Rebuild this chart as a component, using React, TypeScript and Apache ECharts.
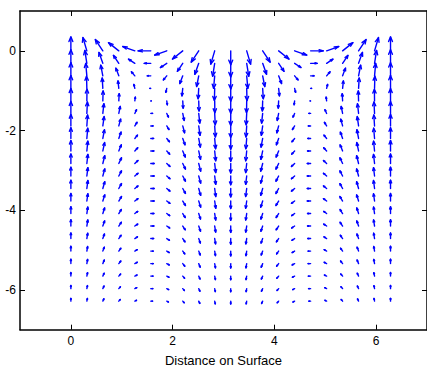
import React, { useEffect, useRef } from "react";
import * as echarts from "echarts";

// grid positions (data units)
const xPositions = [0, 0.314, 0.628, 0.942, 1.257, 1.571, 1.885, 2.199, 2.513, 2.827, 3.142, 3.456, 3.770, 4.084, 4.398, 4.712, 5.027, 5.341, 5.655, 5.969, 6.283];
const yPositions = [0, -0.314, -0.628, -0.942, -1.257, -1.571, -1.885, -2.199, -2.513, -2.827, -3.142, -3.456, -3.770, -4.084, -4.398, -4.712, -5.027, -5.341, -5.655, -5.969, -6.283];

// horizontal arrow components, thousandths of a data unit, one row per depth (top to bottom)
const uRows = [
  [0, -77, -147, -202, -238, -250, -238, -202, -147, -77, 0, 77, 147, 202, 238, 250, 238, 202, 147, 77, 0],
  [0, -40, -76, -105, -124, -130, -124, -105, -76, -40, 0, 40, 76, 105, 124, 130, 124, 105, 76, 40, 0],
  [0, -22, -41, -57, -67, -70, -67, -57, -41, -22, 0, 22, 41, 57, 67, 70, 67, 57, 41, 22, 0],
  [0, -6, -12, -16, -19, -20, -19, -16, -12, -6, 0, 6, 12, 16, 19, 20, 19, 16, 12, 6, 0],
  [0, 3, 6, 8, 10, 10, 10, 8, 6, 3, 0, -3, -6, -8, -10, -10, -10, -8, -6, -3, 0],
  [0, 11, 21, 28, 33, 35, 33, 28, 21, 11, 0, -11, -21, -28, -33, -35, -33, -28, -21, -11, 0],
  [0, 14, 26, 36, 43, 45, 43, 36, 26, 14, 0, -14, -26, -36, -43, -45, -43, -36, -26, -14, 0],
  [0, 17, 32, 44, 52, 55, 52, 44, 32, 17, 0, -17, -32, -44, -52, -55, -52, -44, -32, -17, 0],
  [0, 19, 35, 49, 57, 60, 57, 49, 35, 19, 0, -19, -35, -49, -57, -60, -57, -49, -35, -19, 0],
  [0, 20, 38, 53, 62, 65, 62, 53, 38, 20, 0, -20, -38, -53, -62, -65, -62, -53, -38, -20, 0],
  [0, 20, 38, 53, 62, 65, 62, 53, 38, 20, 0, -20, -38, -53, -62, -65, -62, -53, -38, -20, 0],
  [0, 20, 38, 53, 62, 65, 62, 53, 38, 20, 0, -20, -38, -53, -62, -65, -62, -53, -38, -20, 0],
  [0, 20, 38, 53, 62, 65, 62, 53, 38, 20, 0, -20, -38, -53, -62, -65, -62, -53, -38, -20, 0],
  [0, 19, 35, 49, 57, 60, 57, 49, 35, 19, 0, -19, -35, -49, -57, -60, -57, -49, -35, -19, 0],
  [0, 19, 35, 49, 57, 60, 57, 49, 35, 19, 0, -19, -35, -49, -57, -60, -57, -49, -35, -19, 0],
  [0, 17, 32, 44, 52, 55, 52, 44, 32, 17, 0, -17, -32, -44, -52, -55, -52, -44, -32, -17, 0],
  [0, 15, 29, 40, 48, 50, 48, 40, 29, 15, 0, -15, -29, -40, -48, -50, -48, -40, -29, -15, 0],
  [0, 15, 29, 40, 48, 50, 48, 40, 29, 15, 0, -15, -29, -40, -48, -50, -48, -40, -29, -15, 0],
  [0, 14, 26, 36, 43, 45, 43, 36, 26, 14, 0, -14, -26, -36, -43, -45, -43, -36, -26, -14, 0],
  [0, 12, 24, 32, 38, 40, 38, 32, 24, 12, 0, -12, -24, -32, -38, -40, -38, -32, -24, -12, 0],
  [0, 11, 21, 28, 33, 35, 33, 28, 21, 11, 0, -11, -21, -28, -33, -35, -33, -28, -21, -11, 0],
];

// vertical arrow components, thousandths of a data unit
const vRows = [
  [350, 333, 283, 206, 108, 0, -108, -206, -283, -333, -350, -333, -283, -206, -108, 0, 108, 206, 283, 333, 350],
  [340, 323, 275, 200, 105, 0, -105, -200, -275, -323, -340, -323, -275, -200, -105, 0, 105, 200, 275, 323, 340],
  [330, 314, 267, 194, 102, 0, -102, -194, -267, -314, -330, -314, -267, -194, -102, 0, 102, 194, 267, 314, 330],
  [320, 304, 259, 188, 99, 0, -99, -188, -259, -304, -320, -304, -259, -188, -99, 0, 99, 188, 259, 304, 320],
  [310, 295, 251, 182, 96, 0, -96, -182, -251, -295, -310, -295, -251, -182, -96, 0, 96, 182, 251, 295, 310],
  [300, 285, 243, 176, 93, 0, -93, -176, -243, -285, -300, -285, -243, -176, -93, 0, 93, 176, 243, 285, 300],
  [290, 276, 235, 171, 90, 0, -90, -171, -235, -276, -290, -276, -235, -171, -90, 0, 90, 171, 235, 276, 290],
  [270, 257, 218, 159, 83, 0, -83, -159, -218, -257, -270, -257, -218, -159, -83, 0, 83, 159, 218, 257, 270],
  [260, 247, 210, 153, 80, 0, -80, -153, -210, -247, -260, -247, -210, -153, -80, 0, 80, 153, 210, 247, 260],
  [240, 228, 194, 141, 74, 0, -74, -141, -194, -228, -240, -228, -194, -141, -74, 0, 74, 141, 194, 228, 240],
  [220, 209, 178, 129, 68, 0, -68, -129, -178, -209, -220, -209, -178, -129, -68, 0, 68, 129, 178, 209, 220],
  [210, 200, 170, 123, 65, 0, -65, -123, -170, -200, -210, -200, -170, -123, -65, 0, 65, 123, 170, 200, 210],
  [190, 181, 154, 112, 59, 0, -59, -112, -154, -181, -190, -181, -154, -112, -59, 0, 59, 112, 154, 181, 190],
  [170, 162, 138, 100, 53, 0, -53, -100, -138, -162, -170, -162, -138, -100, -53, 0, 53, 100, 138, 162, 170],
  [160, 152, 129, 94, 49, 0, -49, -94, -129, -152, -160, -152, -129, -94, -49, 0, 49, 94, 129, 152, 160],
  [140, 133, 113, 82, 43, 0, -43, -82, -113, -133, -140, -133, -113, -82, -43, 0, 43, 82, 113, 133, 140],
  [120, 114, 97, 71, 37, 0, -37, -71, -97, -114, -120, -114, -97, -71, -37, 0, 37, 71, 97, 114, 120],
  [110, 105, 89, 65, 34, 0, -34, -65, -89, -105, -110, -105, -89, -65, -34, 0, 34, 65, 89, 105, 110],
  [90, 86, 73, 53, 28, 0, -28, -53, -73, -86, -90, -86, -73, -53, -28, 0, 28, 53, 73, 86, 90],
  [80, 76, 65, 47, 25, 0, -25, -47, -65, -76, -80, -76, -65, -47, -25, 0, 25, 47, 65, 76, 80],
  [70, 67, 57, 41, 22, 0, -22, -41, -57, -67, -70, -67, -57, -41, -22, 0, 22, 41, 57, 67, 70],
];

const xTickValues = [0, 2, 4, 6];
const yTickValues = [-6, -4, -2, 0];
const xAxisTitle = "Distance on Surface";

export default function App() {
  const ref = useRef<HTMLDivElement>(null);

  useEffect(() => {
    if (!ref.current) return;
    const chart = echarts.init(ref.current, undefined, { renderer: "svg" });

    const data: number[][] = [];
    yPositions.forEach((y, j) => {
      xPositions.forEach((x, i) => {
        data.push([x, y, uRows[j][i] / 1000, vRows[j][i] / 1000]);
      });
    });

    const font = "'Liberation Sans', Arial, Helvetica, sans-serif";
    const axisLine = { show: true, onZero: false, lineStyle: { color: "#000", width: 1.5 } };
    const tickStyle = { show: true, inside: true, length: 5, lineStyle: { color: "#000", width: 1 } };

    chart.setOption({
      animation: false,
      backgroundColor: "#fff",
      grid: { left: 20, top: 11, width: 409.5, height: 318.7, containLabel: false },
      xAxis: [
        {
          type: "value", position: "bottom", min: -1, max: 7,
          axisLine, axisTick: { ...tickStyle, customValues: xTickValues },
          axisLabel: { customValues: xTickValues, color: "#000", fontSize: 12, fontFamily: font, margin: 5 },
          splitLine: { show: false },
          name: xAxisTitle, nameLocation: "middle", nameGap: 24,
          nameTextStyle: { color: "#000", fontSize: 13, fontFamily: font },
        },
        {
          type: "value", position: "top", min: -1, max: 7,
          axisLine, axisTick: { ...tickStyle, customValues: xTickValues },
          axisLabel: { show: false }, splitLine: { show: false },
        },
      ],
      yAxis: [
        {
          type: "value", position: "left", min: -7, max: 1,
          axisLine, axisTick: { ...tickStyle, customValues: yTickValues },
          axisLabel: { customValues: yTickValues, color: "#000", fontSize: 12, fontFamily: font, margin: 4 },
          splitLine: { show: false },
        },
        {
          type: "value", position: "right", min: -7, max: 1,
          axisLine, axisTick: { ...tickStyle, customValues: yTickValues },
          axisLabel: { show: false }, splitLine: { show: false },
        },
      ],
      series: [
        {
          type: "custom",
          silent: true,
          xAxisIndex: 0,
          yAxisIndex: 0,
          encode: { x: 0, y: 1 },
          data,
          renderItem: (_params: any, api: any) => {
            const x = api.value(0) as number;
            const y = api.value(1) as number;
            const u = api.value(2) as number;
            const v = api.value(3) as number;
            const a = 0.33;
            const b = 0.33;
            const tail = api.coord([x, y]);
            const tip = api.coord([x + u, y + v]);
            const h1 = api.coord([x + u - a * (u + b * v), y + v - a * (v - b * u)]);
            const h2 = api.coord([x + u - a * (u - b * v), y + v - a * (v + b * u)]);
            const style = { stroke: "#0000ff", lineWidth: 1.4, fill: null, lineCap: "round", lineJoin: "round" };
            return {
              type: "group",
              children: [
                { type: "polyline", shape: { points: [tail, tip] }, style },
                { type: "polyline", shape: { points: [h1, tip, h2] }, style },
              ],
            };
          },
        },
      ],
    });

    return () => chart.dispose();
  }, []);

  return (
    <div
      ref={ref}
      style={{ position: "absolute", left: 0, top: 0, width: 427, height: 372, background: "#fff" }}
    />
  );
}
